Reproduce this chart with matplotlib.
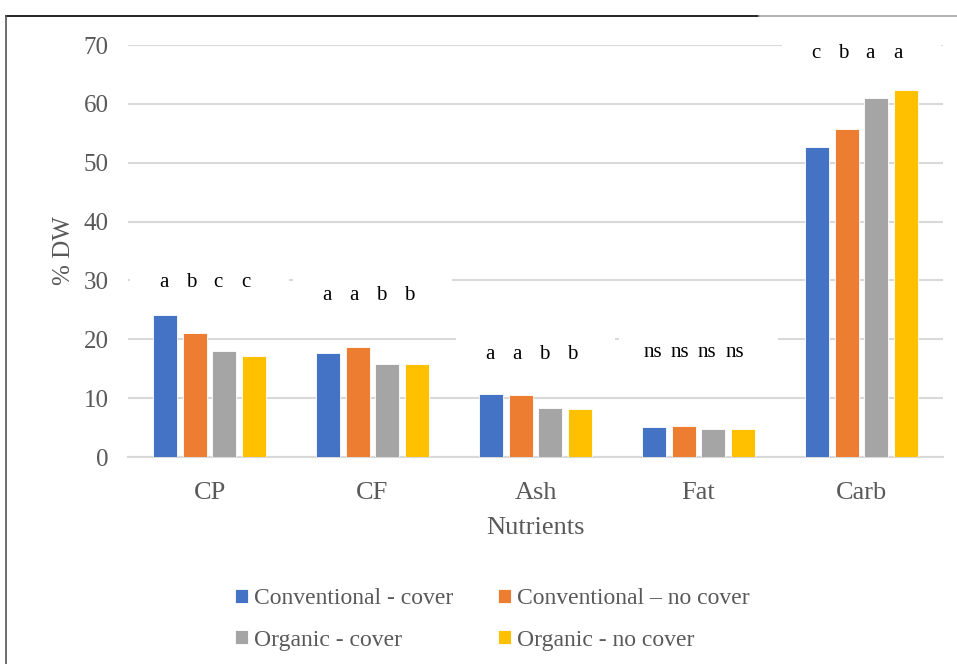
import numpy as np
import matplotlib.pyplot as plt
from matplotlib.patches import Rectangle
from matplotlib.lines import Line2D

# data
nutrients = ['CP', 'CF', 'Ash', 'Fat', 'Carb']
series = ['Conventional - cover', 'Conventional \u2013 no cover',
          'Organic - cover', 'Organic - no cover']
conv_cover = [24.1, 17.7, 10.7, 5.1, 52.6]
conv_nocover = [21.1, 18.7, 10.5, 5.2, 55.8]
org_cover = [18.0, 15.8, 8.3, 4.8, 61.0]
org_nocover = [17.1, 15.8, 8.1, 4.8, 62.4]
letters = [['a', 'b', 'c', 'c'], ['a', 'a', 'b', 'b'], ['a', 'a', 'b', 'b'],
           ['ns', 'ns', 'ns', 'ns'], ['c', 'b', 'a', 'a']]
letter_y = [29.6, 27.5, 17.5, 17.8, 68.6]

colors = ['#4472C4', '#ED7D31', '#A5A5A5', '#FFC000']
grey_txt = '#595959'

plt.rcParams['font.family'] = ['Liberation Serif', 'DejaVu Serif']

fig = plt.figure(figsize=(9.57, 6.64), dpi=100)
ax = fig.add_axes([0.1338, 0.3117, 0.8516, 0.6205])

x = np.arange(len(nutrients))
w = 0.145
step = 0.181
vals = [conv_cover, conv_nocover, org_cover, org_nocover]
bars = []
for i, v in enumerate(vals):
    b = ax.bar(x + (i - 1.5) * step, v, w, color=colors[i], label=series[i],
               zorder=3, edgecolor='white', linewidth=0.6)
    bars.append(b)

# significance letters on white boxes
for g in range(len(nutrients)):
    ax.add_patch(Rectangle((g - 0.485, letter_y[g] - 3.0), 0.97, 6.0,
                           facecolor='white', edgecolor='none', zorder=4,
                           clip_on=False))
    for i in range(4):
        ax.text(g + (i - 1.5) * 0.168 - 0.03, letter_y[g], letters[g][i],
                ha='center', va='center', fontsize=15, color='black', zorder=5)

ax.set_xlim(-0.5, 4.5)
ax.set_ylim(0, 70)
ax.set_yticks(range(0, 71, 10))
ax.set_xticks(x)
ax.set_xticklabels(nutrients)
ax.yaxis.grid(True, color='#d9d9d9', linewidth=1.5, zorder=0)
ax.set_axisbelow(True)
for s in ['top', 'right', 'left']:
    ax.spines[s].set_visible(False)
ax.spines['bottom'].set_color('#d9d9d9')
ax.spines['bottom'].set_linewidth(1.5)
ax.tick_params(axis='y', length=0, labelsize=18, colors=grey_txt, pad=14)
ax.tick_params(axis='x', length=0, labelsize=19, colors=grey_txt, pad=18)
ax.set_xlabel('Nutrients', fontsize=19, color=grey_txt, labelpad=9)
ax.set_ylabel('% DW', fontsize=18, color=grey_txt, labelpad=6)

# legend filled row by row
order = [0, 2, 1, 3]
fig.legend([bars[k] for k in order], [series[k] for k in order],
           loc='center', bbox_to_anchor=(0.514, 0.067), ncol=2, frameon=False,
           fontsize=17, labelcolor=grey_txt, handlelength=0.55, handleheight=0.55,
           handletextpad=0.25, columnspacing=1.9, labelspacing=0.85)

# outer border pieces
fig.add_artist(Line2D([6 / 957, 759 / 957], [1 - 16 / 664, 1 - 16 / 664],
                      color='black', linewidth=1.2))
fig.add_artist(Line2D([759 / 957, 1.0], [1 - 16 / 664, 1 - 16 / 664],
                      color='#a6a6a6', linewidth=1.2))
fig.add_artist(Line2D([6 / 957, 6 / 957], [0, 1 - 16 / 664],
                      color='#555555', linewidth=1.2))

fig.savefig('out.png', dpi=100)
